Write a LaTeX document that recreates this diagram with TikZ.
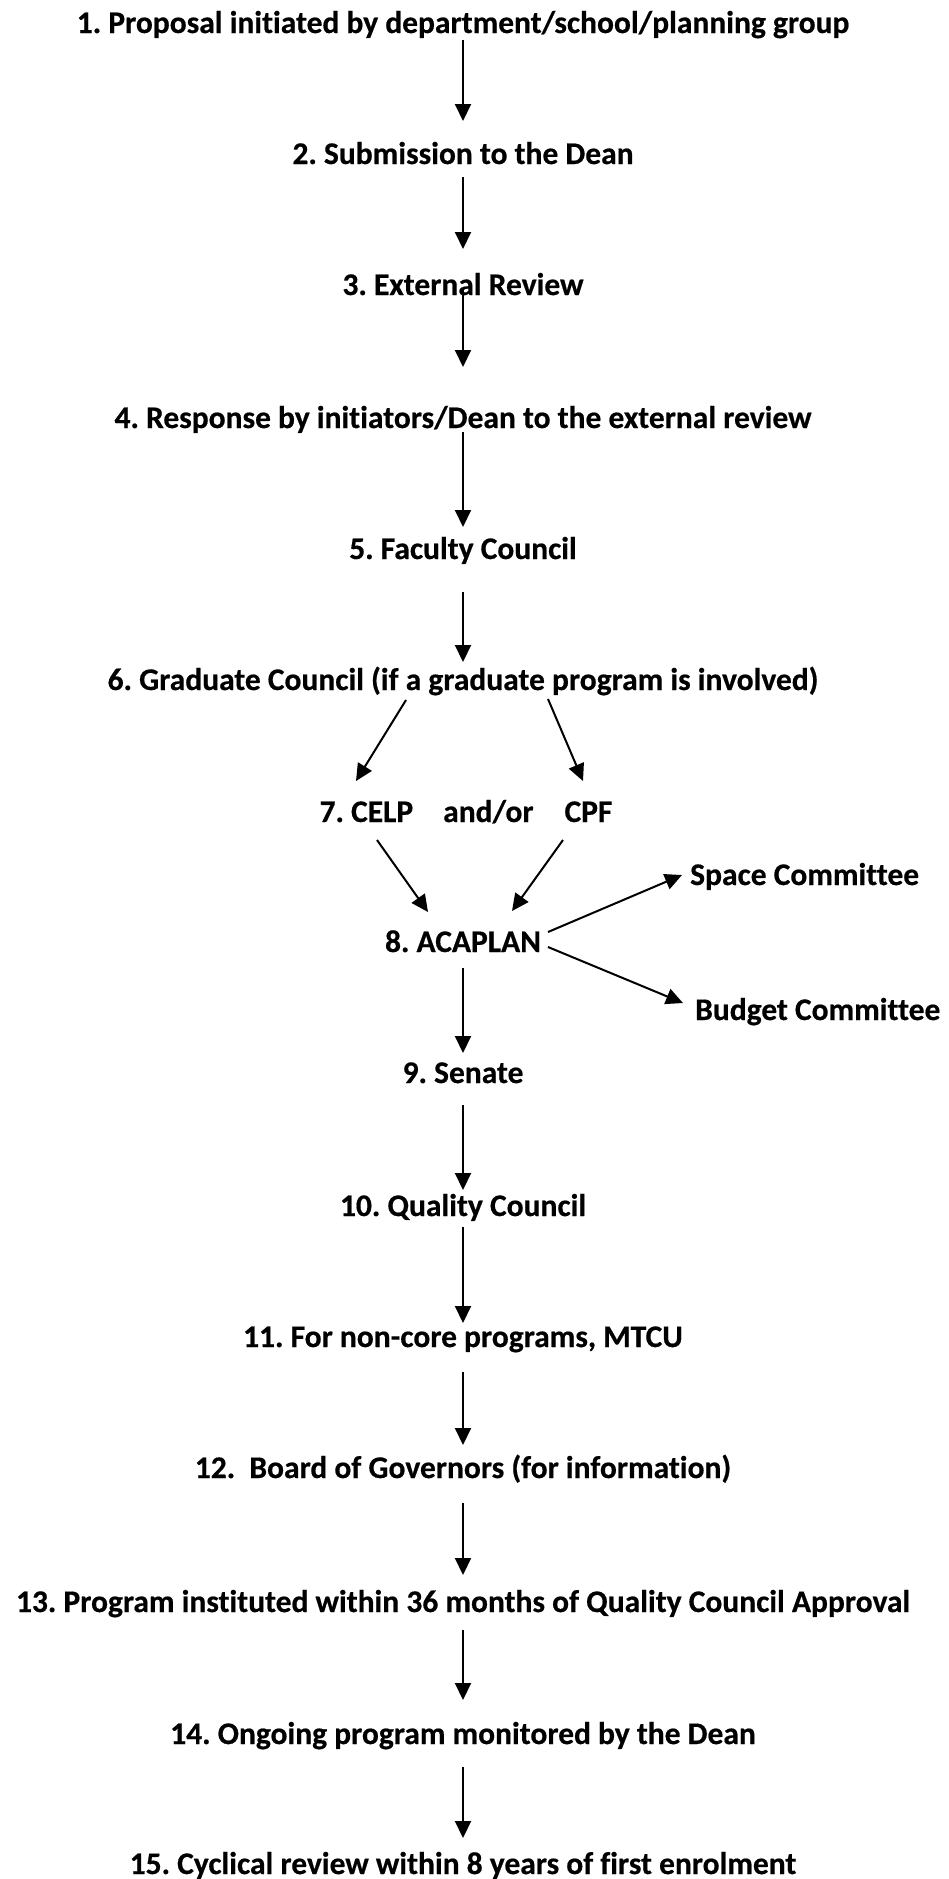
\documentclass[tikz,border=0pt]{standalone}
\usepackage{fontspec}
\setmainfont{Carlito}[RawFeature={-liga;-clig;-calt;-dlig}, BoldFeatures={FakeBold=0.5}]
\usetikzlibrary{arrows.meta}
\begin{document}
\frenchspacing
\begin{tikzpicture}[x=1pt,y=-1pt,
  lbl/.style={font=\bfseries\fontsize{31.5}{36}\selectfont, inner sep=0pt, anchor=base},
  side/.style={lbl, anchor=base west},
  arr/.style={-{Triangle[length=17pt,width=16pt]}, line width=2pt}]
\useasboundingbox (0,0) rectangle (949,1879);
\node[lbl] (n1) at (463,33) {1. Proposal initiated by department/school/planning group};
\node[lbl] (n2) at (463,164) {2. Submission to the Dean};
\node[lbl] (n3) at (463,295) {3. External Review};
\node[lbl] (n4) at (463,428) {4. Response by initiators/Dean to the external review};
\node[lbl] (n5) at (463,559) {5. Faculty Council};
\node[lbl] (n6) at (463,690) {6. Graduate Council (if a graduate program is involved)};
\node[lbl] (n7) at (466,822) {7. CELP\hspace{30pt}and/or\hspace{31pt}CPF};
\node[lbl] (n8) at (463,952) {8. ACAPLAN};
\node[side] (sp) at (690,885) {Space Committee};
\node[side] (bu) at (695,1020) {Budget Committee};
\node[lbl] (n9) at (463,1083) {9. Senate};
\node[lbl] (n10) at (463,1216) {10. Quality Council};
\node[lbl] (n11) at (463,1347) {11. For non-core programs, MTCU};
\node[lbl] (n12) at (463,1478) {12.\ \ Board of Governors (for information)};
\node[lbl] (n13) at (463,1612) {13. Program instituted within 36 months of Quality Council Approval};
\node[lbl] (n14) at (463,1744) {14. Ongoing program monitored by the Dean};
\node[lbl] (n15) at (463,1874) {15. Cyclical review within 8 years of first enrolment};

\draw[arr] ([yshift=-7pt]n1.base) -- ([yshift=43pt]n2.base);
\draw[arr] ([yshift=-13pt]n2.base) -- ([yshift=46pt]n3.base);
\draw[arr] ([yshift=7pt]n3.base) -- ([yshift=61pt]n4.base);
\draw[arr] ([yshift=-4pt]n4.base) -- ([yshift=32pt]n5.base);
\draw[arr] ([yshift=-33pt]n5.base) -- ([yshift=28pt]n6.base);
\draw[arr] ([xshift=-57pt,yshift=-10pt]n6.base) -- ([xshift=-110pt,yshift=41pt]n7.base);
\draw[arr] ([xshift=85pt,yshift=-9pt]n6.base) -- ([xshift=117pt,yshift=41pt]n7.base);
\draw[arr] ([xshift=-89pt,yshift=-18pt]n7.base) -- ([xshift=-35pt,yshift=40pt]n8.base);
\draw[arr] ([xshift=97pt,yshift=-18pt]n7.base) -- ([xshift=49pt,yshift=41pt]n8.base);
\draw[arr] ([xshift=85pt,yshift=20pt]n8.base) -- ([xshift=-8pt,yshift=10pt]sp.base west);
\draw[arr] ([xshift=85pt,yshift=5pt]n8.base) -- ([xshift=-12pt,yshift=17pt]bu.base west);
\draw[arr] ([yshift=-16pt]n8.base) -- ([yshift=30pt]n9.base);
\draw[arr] ([yshift=-22pt]n9.base) -- ([yshift=26pt]n10.base);
\draw[arr] ([yshift=-11pt]n10.base) -- ([yshift=24pt]n11.base);
\draw[arr] ([yshift=-25pt]n11.base) -- ([yshift=33pt]n12.base);
\draw[arr] ([yshift=-25pt]n12.base) -- ([yshift=37pt]n13.base);
\draw[arr] ([yshift=-18pt]n13.base) -- ([yshift=44pt]n14.base);
\draw[arr] ([yshift=-23pt]n14.base) -- ([yshift=36pt]n15.base);
\end{tikzpicture}
\end{document}
